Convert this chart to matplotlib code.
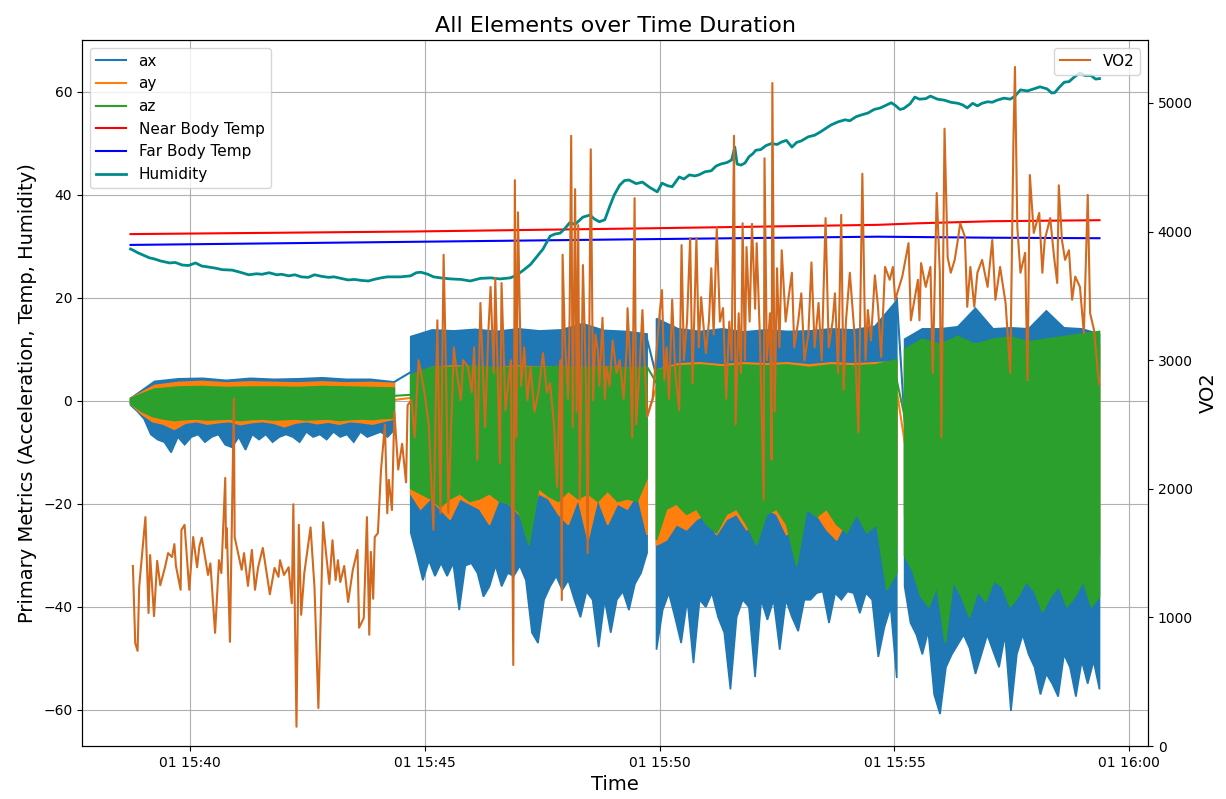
import numpy as np
import matplotlib
matplotlib.use("Agg")
import matplotlib.pyplot as plt
import matplotlib.dates as mdates
import pandas as pd

# ---------------------------------------------------------------------------
# Session data (times are seconds after the session start)
# ---------------------------------------------------------------------------
t0 = pd.Timestamp("2024-03-01 15:38:44")

# accelerometer recording windows
seg_start = [0, 358, 672, 989]
seg_end = [337, 660, 979, 1238]

# per-window envelopes (upper / lower extremes) of the acceleration signals
ax_hi = [
    [0.5, 3.8, 4.3, 4.4, 4.0, 4.4, 4.2, 4.3, 4.5, 4.2, 4.2, 3.7],
    [12.5, 13.8, 13.6, 13.9, 13.5, 14.0, 13.6, 13.8, 15.0, 13.7, 13.5, 13.0],
    [16.0, 14.0, 13.5, 14.0, 13.4, 13.8, 13.5, 13.6, 14.0, 13.8, 14.5, 19.5],
    [12.0, 14.0, 14.0, 14.4, 18.0, 14.0, 14.2, 14.0, 17.5, 14.2, 14.0, 13.0],
]
ax_lo = [
    [-0.8, -2, -3.5, -6.5, -7.5, -8, -10, -7, -8.5, -7, -6.5, -8, -7, -6.5,
     -8.5, -9, -7, -9.5, -6.5, -7.5, -6.5, -8, -7, -6.5, -7, -8, -6, -7,
     -6.5, -7.5, -6, -7, -6.5, -8, -6, -7, -6.5, -6, -7, -5.6],
    [-25.6, -30, -34.8, -31, -34, -31.5, -34, -31.5, -40.6, -32, -31.5, -33.4,
     -38, -36, -32, -36, -33.4, -34, -32, -34.8, -45, -47, -38.6, -36, -34,
     -36.7, -34.8, -38.6, -42, -37, -38.6, -47.8, -38.6, -45, -38.6, -37,
     -40.6, -35.5, -33.4, -29.5],
    [-48.3, -40.6, -37.3, -42, -47, -38.6, -50.9, -38.6, -40, -37.3, -42, -45,
     -56, -42, -38.6, -40, -53.6, -38.6, -42.5, -38.6, -48.3, -38.6, -42,
     -44.7, -38.6, -38.6, -37.3, -37, -43.1, -37.3, -38.6, -37, -37.3, -41.2,
     -37.3, -38.6, -49.7, -43.9, -40, -53.8],
    [-36, -43.1, -45.4, -49.2, -44.7, -57, -60.8, -51.7, -49.2, -47.3, -45.4,
     -48, -53, -49.2, -45.4, -48.6, -51.7, -45.4, -60.2, -49.2, -45.4, -49.2,
     -51.7, -57, -53, -54.9, -57.4, -49.2, -51.7, -57.4, -50.5, -54.9, -50.5,
     -56],
]
ay_hi = [
    [0.5, 3.0, 3.6, 3.8, 3.5, 3.7, 3.6, 3.5, 3.7, 3.5, 3.6, 3.4],
    [5.0, 6.5, 6.8, 6.6, 6.4, 6.8, 6.5, 6.7, 6.3, 6.6, 6.4, 6.0],
    [6.0, 7.2, 7.4, 7.0, 7.4, 7.2, 7.4, 7.0, 7.4, 7.2, 7.4, 7.6],
    [8.0, 10.5, 11.0, 10.5, 11.0, 10.5, 11.2, 10.8, 11.0, 10.5, 11.0, 11.0],
]
ay_lo = [
    [-0.5, -2.5, -4, -4.5, -5.5, -4.3, -4, -4.5, -4.2, -4, -4.6, -4.2, -4,
     -4.3, -5, -4.3, -4, -4.4, -4.1, -4.5, -4, -4.2, -4.5, -4, -3.5],
    [-18, -21, -19, -21, -23, -19, -20, -21, -24, -19, -20, -22, -23, -18,
     -19, -22, -24, -19, -27, -19, -24, -20, -21, -18, -26],
    [-28, -27, -24, -25, -23, -22, -26, -23, -22, -25, -24, -21, -22, -26,
     -23, -21, -22, -25, -27, -23, -21, -24, -23, -30, -28],
    [-22, -30, -28, -25, -27, -29, -25, -24, -27, -26, -30, -25, -22, -28,
     -27, -31, -25, -24, -28, -30, -26, -27, -31, -28, -30],
]
az_hi = [
    [0.5, 2.3, 2.7, 2.8, 2.6, 2.7, 2.7, 2.6, 2.8, 2.7, 2.6, 2.5],
    [5.0, 6.6, 6.5, 6.8, 6.4, 6.6, 6.5, 6.7, 6.5, 6.6, 6.4, 6.5],
    [6.0, 6.8, 7.0, 6.6, 7.0, 6.8, 7.0, 6.5, 7.0, 6.8, 7.0, 8.0],
    [10.0, 12.0, 11.0, 12.5, 11.0, 12.0, 12.4, 11.5, 12.0, 12.5, 13.0, 13.5],
]
az_lo = [
    [-0.5, -2, -3, -3.5, -3.8, -3.6, -3.5, -3.7, -3.6, -3.5, -3.8, -3.6, -3.5,
     -3.7, -3.6, -3.5, -3.7, -3.6, -3.5, -3.8, -3.6, -3.5, -3.6, -3.4, -3.3],
    [-17, -18, -19, -20.6, -19, -18, -19.5, -19, -18, -19.5, -20, -21.7, -28,
     -17, -18.5, -19.5, -17.5, -19, -18, -19.5, -17.5, -19.5, -19, -19.5, -15],
    [-27, -21, -20, -22, -21, -24, -25.6, -22, -21, -24, -28, -22, -21, -24,
     -32, -21, -22.5, -21, -24, -25.6, -22, -25.6, -24, -36.7, -33.4],
    [-30, -33, -38, -40, -36, -47, -35, -38, -42, -37, -39, -35, -36, -40,
     -38, -35, -37, -41, -38, -36, -40, -38, -35, -40, -38],
]

# values at the end of one window and the start of the next
ax_gap_from = [3.7, 12.0, 20.0]
ax_gap_to = [5.6, 4.7, -4.0]
ay_gap_from = [0.2, -3.0, 2.0]
ay_gap_to = [0.6, 2.7, -8.0]
az_gap_from = [1.0, 6.6, 4.0]
az_gap_to = [1.2, 3.5, -3.0]

# skin temperatures
near_sec = [0, 358, 650, 955, 1006, 1100, 1238]
near_val = [32.4, 32.9, 33.5, 34.2, 34.5, 34.9, 35.1]
far_sec = [0, 358, 650, 955, 1100, 1238]
far_val = [30.3, 30.9, 31.4, 31.9, 31.7, 31.6]

# relative humidity
hum_sec = [0, 3, 9, 15, 24, 30, 38, 50, 57, 66, 74, 83, 91, 100, 108, 117,
           130, 140, 151, 161, 168, 177, 187, 193, 202, 210, 218, 227, 235,
           244, 253, 260, 269, 278, 286, 295, 304, 311, 320, 328, 335, 345,
           358, 365, 371, 380, 387, 396, 409, 422, 434, 447, 460, 472, 485,
           493, 502, 511, 519, 527, 536, 542, 549, 555, 561, 568, 578, 587,
           593, 599, 606, 612, 618, 625, 631, 637, 646, 654, 663, 673, 679,
           686, 692, 701, 707, 714, 721, 726, 734, 742, 748, 754, 762, 768,
           772, 775, 780, 785, 790, 795, 799, 805, 812, 819, 826, 832, 838,
           845, 851, 857, 866, 874, 881, 889, 895, 904, 913, 919, 927, 935,
           942, 950, 958, 965, 972, 977, 983, 988, 996, 1002, 1008, 1016,
           1022, 1031, 1040, 1048, 1057, 1063, 1069, 1076, 1082, 1088, 1095,
           1101, 1107, 1116, 1124, 1130, 1137, 1146, 1154, 1162, 1171, 1177,
           1181, 1186, 1193, 1199, 1205, 1213, 1219, 1227, 1233, 1238]
hum_val = [29.5, 29.3, 28.8, 28.4, 27.8, 27.6, 27.2, 26.8, 26.9, 26.4, 26.3,
           26.8, 26.2, 26.0, 25.8, 25.5, 25.4, 25.0, 24.5, 24.7, 24.6, 24.9,
           24.5, 24.6, 24.3, 24.5, 24.1, 24.0, 24.5, 24.2, 24.0, 24.1, 23.8,
           23.5, 23.6, 23.4, 23.3, 23.6, 23.9, 24.1, 24.1, 24.1, 24.3, 24.9,
           25.0, 24.6, 24.1, 23.9, 23.7, 23.6, 23.3, 23.8, 23.9, 23.7, 23.9,
           24.4, 25.4, 26.5, 28.0, 29.5, 32.0, 32.4, 32.6, 33.5, 34.6, 34.3,
           35.7, 36.1, 35.3, 34.8, 35.2, 37.7, 40.0, 41.9, 42.8, 42.9, 42.2,
           42.5, 41.5, 40.6, 42.3, 41.8, 41.6, 43.5, 43.1, 43.9, 43.7, 43.9,
           44.5, 44.7, 45.6, 46.0, 46.3, 46.8, 49.3, 46.0, 45.8, 46.2, 47.4,
           48.0, 48.7, 48.8, 49.6, 50.0, 49.8, 50.3, 50.6, 49.3, 50.2, 50.5,
           51.3, 51.6, 52.2, 53.0, 53.6, 54.2, 54.6, 54.4, 55.2, 55.6, 55.9,
           56.6, 56.9, 57.4, 57.9, 57.4, 56.6, 56.8, 57.7, 59.0, 58.6, 58.7,
           59.2, 58.6, 58.4, 58.0, 57.8, 57.5, 56.9, 57.8, 57.3, 57.8, 58.1,
           58.0, 58.4, 58.8, 58.6, 59.2, 60.4, 60.2, 60.6, 61.0, 60.6, 59.8,
           59.9, 60.8, 61.9, 62.0, 62.8, 63.7, 63.2, 63.2, 62.5, 62.6]

# oxygen uptake
vo2_sec = [3, 6, 9, 11, 19, 23, 25, 30, 34, 38, 44, 48, 53, 56, 58, 64, 65,
           69, 75, 80, 85, 88, 91, 99, 102, 108, 113, 116, 121, 122, 123, 127,
           132, 133, 138, 142, 145, 150, 155, 159, 163, 169, 178, 184, 189,
           191, 196, 202, 206, 208, 212, 215, 218, 222, 230, 235, 240, 246,
           250, 254, 258, 262, 265, 268, 273, 278, 284, 290, 292, 298, 302,
           305, 307, 310, 312, 316, 320, 325, 328, 330, 334, 337, 342, 347,
           352, 354, 359, 363,
           368, 375, 381, 387, 392, 396, 400, 404, 406, 413, 417, 422, 425,
           431, 436, 439, 443, 447, 451, 453, 457, 460, 464, 466, 470, 472,
           474, 479, 484, 486, 489, 491, 493, 495, 499, 503, 507, 511, 516,
           521, 527, 532, 536, 541, 545, 549, 551, 552, 555, 559, 561, 563,
           565, 568, 570, 572, 574, 578, 582, 584, 588, 591, 594, 597, 599,
           603, 606, 608, 612, 616, 621, 625, 630, 634, 635, 639, 641, 644,
           646, 650, 654, 657, 660, 667, 676, 679, 682, 685, 688, 692, 696,
           701, 704, 707, 711, 715, 718, 723, 726, 729, 733, 735, 739, 742,
           745, 749, 753, 757, 761, 765, 768, 771, 773, 777, 780, 782, 785,
           787, 791, 794, 798, 800, 804, 806, 809, 810, 813, 817, 819, 820,
           823, 826, 829, 832, 837, 841, 845, 848, 853, 857, 861, 866, 870,
           874, 879, 883, 888, 892, 897, 900, 904, 908, 911, 914, 919, 925,
           930, 935, 939, 942, 946, 951, 955, 959, 964, 970, 974, 977, 986,
           994, 997, 1006, 1008, 1010, 1016, 1022, 1025, 1030, 1034, 1036,
           1040, 1044, 1048, 1053, 1057, 1060, 1066, 1069, 1073, 1078, 1082,
           1088, 1095, 1101, 1105, 1111, 1118, 1124, 1128, 1130, 1133, 1137,
           1143, 1146, 1149, 1154, 1161, 1165, 1168, 1175, 1180, 1184, 1186,
           1190, 1194, 1199, 1203, 1207, 1213, 1218, 1223, 1226, 1231, 1236,
           1238]
vo2_val = [1400, 800, 740, 1236, 1780, 1034, 1485, 1010, 1440, 1250, 1390,
           1500, 1470, 1570, 1400, 1215, 1680, 1720, 1215, 1625, 1390, 1555,
           1620, 1330, 1420, 880, 1445, 1345, 2085, 1540, 1695, 810, 2700,
           1625, 1485, 1370, 1500, 1245, 1525, 1215, 1390, 1540, 1180, 1385,
           1315, 1445, 1330, 1390, 1110, 1880, 150, 1720, 1020, 1345, 1700,
           1236, 295, 1740, 1485, 1260, 1600, 1290, 1445, 1275, 1400, 1120,
           1370, 1525, 920, 995, 1780, 865, 1510, 1145, 1625, 1655, 2145,
           2500, 1810, 2070, 1835, 2600, 2150, 2350, 2050, 2650, 2690, 2400,
           3000, 2770, 2500, 1680, 3310, 1810, 3820, 2600, 1810, 3100, 2900,
           2690, 3000, 2950, 2750, 3100, 2225, 3445, 2800, 2480, 3200, 3570,
           2900, 3640, 2700, 2200, 3600, 2610, 2900, 3000, 630, 4400, 2400,
           4150, 2800, 3100, 2690, 2950, 2600, 2745, 3055, 2750, 2820, 2500,
           2015, 3000, 1135, 3820, 3155, 2700, 3335, 4745, 2480, 4330, 2600,
           4050, 1915, 3740, 2800, 1500, 4640, 2690, 3200, 3080, 2800, 3330,
           2700, 2950, 2800, 3155, 2900, 3000, 2700, 3100, 3405, 2900, 2400,
           4260, 2500, 2900, 3390, 2950, 2560, 2700, 3365, 3545, 2845, 3100,
           2700, 3470, 2900, 2610, 3895, 3000, 3300, 3950, 2820, 3950, 3100,
           3490, 3200, 3055, 3300, 3715, 3200, 4030, 3300, 3405, 2700, 3300,
           3000, 4745, 2500, 3365, 2900, 4065, 3000, 3880, 3300, 4060, 3400,
           3910, 3200, 2700, 1915, 4570, 3000, 3365, 2225, 5155, 2600, 3715,
           3100, 3855, 3300, 3500, 3680, 3100, 3300, 3520, 3000, 3200, 3760,
           3100, 3445, 3000, 4105, 3100, 3300, 3520, 2900, 4130, 2770, 3300,
           3680, 3200, 2440, 4450, 3000, 3390, 3155, 3660, 3415, 3025, 3725,
           3625, 3725, 3470, 3650, 3910, 3310, 3625, 3310, 3755, 3570, 3725,
           2900, 4300, 3680, 2400, 4800, 3800, 3680, 3780, 3935, 4065, 3960,
           3415, 3725, 3415, 3680, 3780, 3570, 3935, 3470, 3725, 3445, 2900,
           4700, 5280, 4035, 3680, 3835, 2845, 4440, 3990, 4145, 3680, 3935,
           4105, 3800, 3600, 4360, 3935, 3780, 3855, 3470, 3650, 3570, 3210,
           4285, 3365, 3235, 2900, 2810]

# ---------------------------------------------------------------------------
base = mdates.date2num(t0.to_pydatetime())


def tnum(sec):
    return base + np.asarray(sec, dtype=float) / 86400.0


fig = plt.figure(figsize=(12.26, 7.99), dpi=100)
ax1 = fig.add_axes([0.0669, 0.0663, 0.8695, 0.8837])


def draw_signal(hi_segs, lo_segs, gap_from, gap_to, color, label):
    for s0, s1, hi, lo in zip(seg_start, seg_end, hi_segs, lo_segs):
        th = tnum(np.linspace(s0, s1, len(hi)))
        tl = tnum(np.linspace(s0, s1, len(lo)))
        xs = np.concatenate([th, tl[::-1]])
        ys = np.concatenate([np.asarray(hi, float), np.asarray(lo, float)[::-1]])
        ax1.fill(xs, ys, color=color, lw=1.2, zorder=2)
    gx, gy = [], []
    for k in range(len(gap_from)):
        gx += [seg_end[k], seg_start[k + 1], np.nan]
        gy += [gap_from[k], gap_to[k], np.nan]
    ax1.plot(tnum(gx), gy, color=color, lw=1.5, label=label, zorder=2)


draw_signal(ax_hi, ax_lo, ax_gap_from, ax_gap_to, "#1f77b4", "ax")
draw_signal(ay_hi, ay_lo, ay_gap_from, ay_gap_to, "#ff7f0e", "ay")
draw_signal(az_hi, az_lo, az_gap_from, az_gap_to, "#2ca02c", "az")

ax1.plot(tnum(near_sec), near_val, color="red", lw=1.5, label="Near Body Temp")
ax1.plot(tnum(far_sec), far_val, color="blue", lw=1.5, label="Far Body Temp")
ax1.plot(tnum(hum_sec), hum_val, color="darkcyan", lw=2.0, label="Humidity")

ax1.set_ylim(-67.0, 70.1)
ax1.set_xlim(tnum(-62), tnum(1238 + 62))
ax1.xaxis.set_major_locator(mdates.MinuteLocator(byminute=range(0, 60, 5)))
ax1.xaxis.set_major_formatter(mdates.DateFormatter("%d %H:%M"))
ax1.grid(True)
ax1.set_xlabel("Time", fontsize=14)
ax1.set_ylabel("Primary Metrics (Acceleration, Temp, Humidity)", fontsize=14)
ax1.set_title("All Elements over Time Duration", fontsize=16)
ax1.legend(loc="upper left", fontsize=11)

ax2 = ax1.twinx()
ax2.plot(tnum(vo2_sec), vo2_val, color="chocolate", lw=1.5, label="VO2")
ax2.set_ylim(0, 5490)
ax2.set_ylabel("VO2", fontsize=14)
ax2.legend(loc="upper right", fontsize=11)

fig.savefig("out.png", dpi=100)
